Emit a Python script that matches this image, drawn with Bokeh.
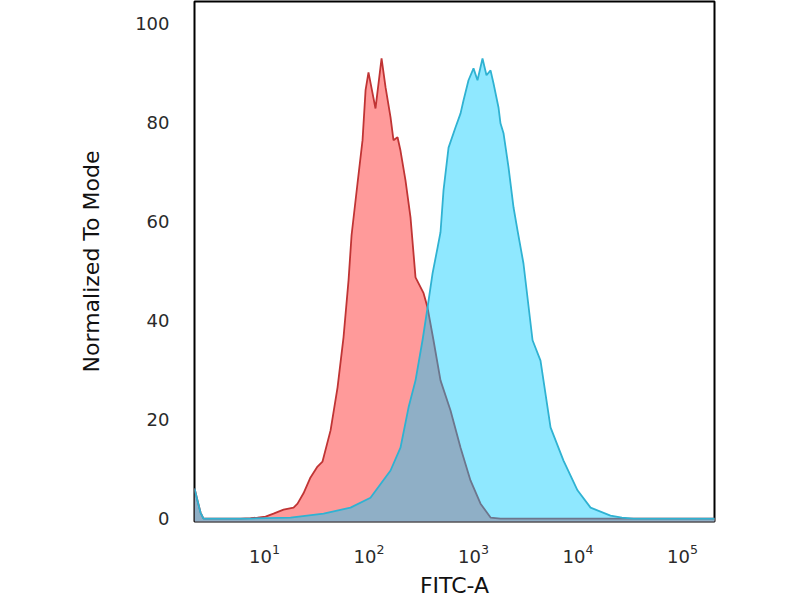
import numpy as np
from bokeh.plotting import figure
from bokeh.models import FixedTicker, Range1d
from bokeh.embed import file_html
from bokeh.resources import INLINE

# log10(FITC-A) positions and normalized-to-mode values
red_log = [0.330, 0.359, 0.388, 0.416, 0.579, 0.770, 0.866, 0.933, 1.010, 1.086,
           1.182, 1.278, 1.316, 1.373, 1.440, 1.507, 1.555, 1.632, 1.699, 1.756,
           1.804, 1.833, 1.890, 1.938, 1.967, 1.995, 2.062, 2.120, 2.158, 2.206,
           2.234, 2.273, 2.301, 2.349, 2.397, 2.445, 2.522, 2.560, 2.617, 2.684,
           2.780, 2.876, 2.971, 3.067, 3.163, 3.258, 4.000, 5.400]
red_val = [6.1, 3.6, 1.2, 0.0, 0.0, 0.0, 0.1, 0.2, 0.4, 1.0,
           1.8, 2.2, 3.0, 5.1, 8.3, 10.5, 11.5, 17.8, 26.5, 36.6,
           48.1, 57.2, 67.7, 76.4, 86.5, 90.1, 82.8, 92.9, 87.1, 81.0,
           76.4, 77.0, 74.3, 68.3, 60.8, 48.7, 45.5, 42.6, 36.0, 27.9,
           21.8, 14.3, 7.7, 3.0, 0.2, 0.0, 0.0, 0.0]

blue_log = [0.330, 0.359, 0.388, 0.416, 0.866, 1.249, 1.565, 1.823, 2.014, 2.206,
            2.301, 2.378, 2.445, 2.512, 2.560, 2.608, 2.656, 2.684, 2.713, 2.761,
            2.828, 2.876, 2.904, 2.952, 3.000, 3.038, 3.086, 3.124, 3.163, 3.191,
            3.239, 3.258, 3.287, 3.335, 3.383, 3.421, 3.478, 3.565, 3.641, 3.737,
            3.861, 3.995, 4.120, 4.311, 4.420, 4.531, 4.694, 5.400]
blue_val = [6.1, 3.6, 1.2, 0.0, 0.0, 0.2, 1.0, 2.2, 4.2, 9.7,
            14.3, 22.4, 27.9, 36.0, 42.6, 49.5, 54.7, 57.8, 66.3, 74.9,
            79.0, 81.8, 84.4, 88.5, 90.9, 88.5, 92.9, 89.5, 90.5, 87.9,
            83.0, 79.8, 77.8, 70.9, 62.8, 58.2, 51.5, 36.0, 31.9, 18.4,
            11.7, 5.7, 2.2, 0.6, 0.2, 0.0, 0.0, 0.0]

x_ticks = [10, 100, 1000, 10000, 100000]
y_ticks = [0, 20, 40, 60, 80, 100]

x_lo, x_hi = 10 ** 0.330, 10 ** 5.306
y_lo, y_hi = -0.6, 104.4

red_x = np.power(10.0, red_log)
blue_x = np.power(10.0, blue_log)

p = figure(width=800, height=600, x_axis_type="log",
           x_range=Range1d(x_lo, x_hi), y_range=Range1d(y_lo, y_hi),
           output_backend="svg", toolbar_location=None,
           min_border_left=194, min_border_right=86,
           min_border_top=1, min_border_bottom=79)

p.varea(x=red_x, y1=y_lo - 1, y2=red_val, fill_color="#FF9A9A", fill_alpha=1.0)
p.line(x=red_x, y=red_val, line_color="#C03434", line_width=1.8)
p.varea(x=blue_x, y1=y_lo - 1, y2=blue_val, fill_color="#00CAFF", fill_alpha=0.44)
p.line(x=blue_x, y=blue_val, line_color="#2FB2D2", line_width=1.8)

p.grid.visible = False
p.outline_line_color = "black"
p.outline_line_width = 2
p.background_fill_color = "white"
p.border_fill_color = "white"

for ax in (p.xaxis[0], p.yaxis[0]):
    ax.axis_line_color = None
    ax.major_tick_line_color = None
    ax.minor_tick_line_color = None
    ax.major_tick_out = 0
    ax.major_tick_in = 0
    ax.minor_tick_out = 0
    ax.major_label_text_font = "DejaVu Sans"
    ax.major_label_text_font_size = "18px"
    ax.major_label_text_color = "#2a2a2a"
    ax.axis_label_text_font = "DejaVu Sans"
    ax.axis_label_text_font_size = "22px"
    ax.axis_label_text_font_style = "normal"
    ax.axis_label_text_color = "#111111"

p.xaxis.ticker = FixedTicker(ticks=x_ticks)
p.yaxis.ticker = FixedTicker(ticks=y_ticks)
p.xaxis.axis_label = "FITC-A"
p.yaxis.axis_label = "Normalized To Mode"
p.xaxis.major_label_standoff = 22
p.xaxis.axis_label_standoff = 7
p.yaxis.major_label_standoff = 25
p.yaxis.axis_label_standoff = 28

open("out.html", "w").write(file_html(p, INLINE))
